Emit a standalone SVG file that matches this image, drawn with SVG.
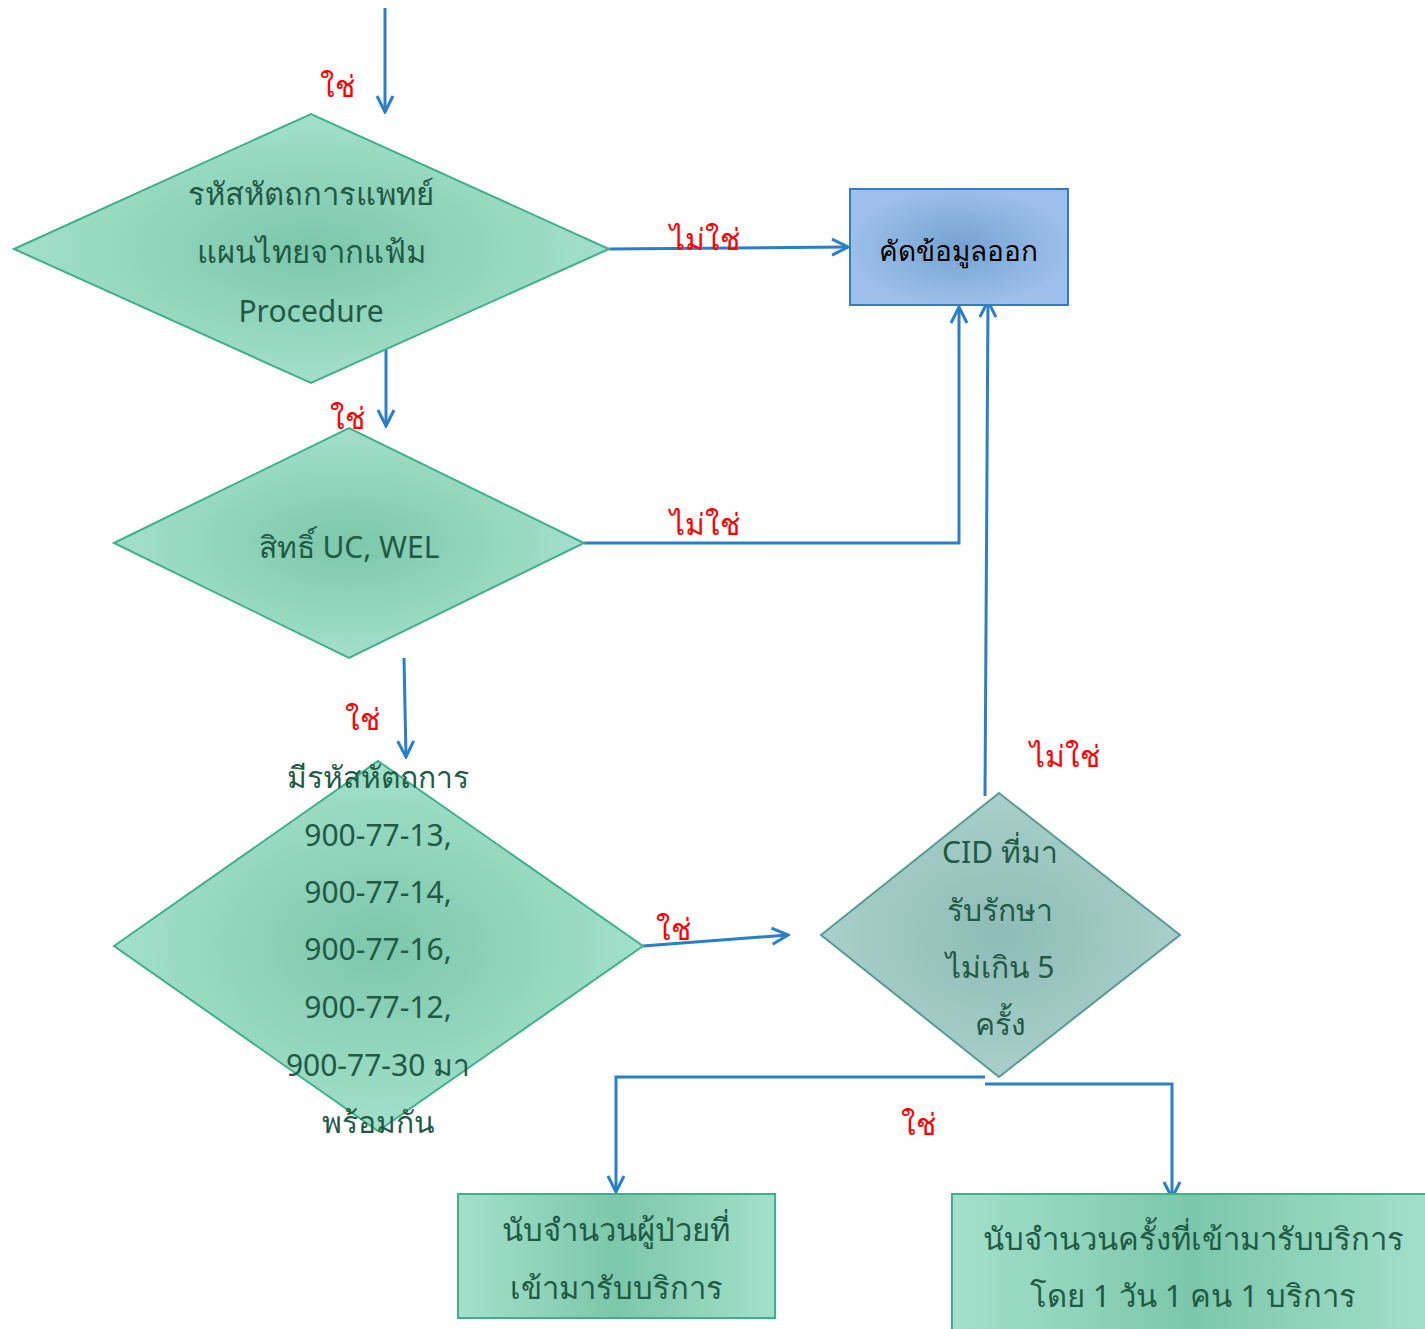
<svg xmlns="http://www.w3.org/2000/svg" width="1425" height="1329" viewBox="0 0 1425 1329">
<style>
.t{font-family:"Noto Sans","DejaVu Sans",sans-serif;font-size:30px;fill:#1f5a45;text-anchor:middle}
.lbl{font-family:"Liberation Serif","DejaVu Serif",serif;font-size:30px;fill:#ff0000;text-anchor:middle}
.c{fill:none;stroke:#2a7fc6;stroke-width:3}
.g{stroke:#3fb08a;stroke-width:2}
</style>
<defs>
<radialGradient id="gg" cx="50%" cy="50%" r="50%">
<stop offset="0" stop-color="#7cc7ab"/><stop offset="1" stop-color="#a3e0cb"/>
</radialGradient>
<linearGradient id="gh" x1="0" y1="0" x2="1" y2="0">
<stop offset="0" stop-color="#a3e0cb"/><stop offset="0.5" stop-color="#7cc7ab"/><stop offset="1" stop-color="#a3e0cb"/>
</linearGradient>
<radialGradient id="gb" cx="50%" cy="50%" r="50%">
<stop offset="0" stop-color="#74a2d2"/><stop offset="1" stop-color="#9dbfe9"/>
</radialGradient>
<radialGradient id="gt" cx="50%" cy="50%" r="50%">
<stop offset="0" stop-color="#8ebcb6"/><stop offset="1" stop-color="#a9cfca"/>
</radialGradient>
<marker id="ah" viewBox="0 0 20 20" refX="18" refY="10" markerWidth="20" markerHeight="20" markerUnits="userSpaceOnUse" orient="auto">
<path d="M2,2 L18,10 L2,18" fill="none" stroke="#2a7fc6" stroke-width="3"/>
</marker>
</defs>

<g id="connectors">
<line class="c" x1="385" y1="8" x2="385" y2="112" marker-end="url(#ah)"/>
<line class="c" x1="609" y1="249" x2="848" y2="247" marker-end="url(#ah)"/>
<line class="c" x1="386" y1="350" x2="386" y2="426" marker-end="url(#ah)"/>
<polyline class="c" points="584,543 959,543 959,307" marker-end="url(#ah)"/>
<line class="c" x1="404" y1="658" x2="406" y2="757" marker-end="url(#ah)"/>
<line class="c" x1="643" y1="946" x2="788" y2="935" marker-end="url(#ah)"/>
<line class="c" x1="985" y1="796" x2="988" y2="301" marker-end="url(#ah)"/>
<polyline class="c" points="985,1077 616,1077 616,1192" marker-end="url(#ah)"/>
<polyline class="c" points="985,1084 1172,1084 1172,1198" marker-end="url(#ah)"/>
<text class="lbl" x="337" y="97">ใช่</text>
<text class="lbl" x="705" y="250">ไม่ใช่</text>
<text class="lbl" x="347" y="429">ใช่</text>
<text class="lbl" x="705" y="535">ไม่ใช่</text>
<text class="lbl" x="362" y="730">ใช่</text>
<text class="lbl" x="673" y="940">ใช่</text>
<text class="lbl" x="1065" y="767">ไม่ใช่</text>
<text class="lbl" x="918" y="1135">ใช่</text>
</g>

<g id="d1">
<polygon class="g" points="14,249 311,114 609,249 311,383" fill="url(#gg)"/>
<text class="t" x="311" y="205" style="font-size:31px">รหัสหัตถการแพทย์</text>
<text class="t" x="311" y="263" style="font-size:31px">แผนไทยจากแฟ้ม</text>
<text class="t" x="311" y="322">Procedure</text>
</g>

<g id="out">
<rect x="850" y="189" width="218" height="116" fill="url(#gb)" stroke="#2e7ec4" stroke-width="2"/>
<text class="t" x="958" y="261" style="fill:#000;font-size:28px">คัดข้อมูลออก</text>
</g>

<g id="d2">
<polygon class="g" points="114,543 349,428 584,543 349,658" fill="url(#gg)"/>
<text class="t" x="349" y="558">สิทธิ์ UC, WEL</text>
</g>

<g id="d3">
<polygon class="g" points="114,946 378,761 643,946 378,1131" fill="url(#gg)"/>
<text class="t" x="378" y="788">มีรหัสหัตถการ</text>
<text class="t" x="378" y="846">900-77-13,</text>
<text class="t" x="378" y="903">900-77-14,</text>
<text class="t" x="378" y="960">900-77-16,</text>
<text class="t" x="378" y="1018">900-77-12,</text>
<text class="t" x="378" y="1076">900-77-30 มา</text>
<text class="t" x="378" y="1133">พร้อมกัน</text>
</g>

<g id="d4">
<polygon points="821,935 999,793 1180,935 999,1077" fill="url(#gt)" stroke="#5a9a94" stroke-width="2"/>
<text class="t" x="1000" y="863">CID ที่มา</text>
<text class="t" x="1000" y="921">รับรักษา</text>
<text class="t" x="1000" y="978">ไม่เกิน 5</text>
<text class="t" x="1000" y="1035">ครั้ง</text>
</g>

<g id="b1">
<rect class="g" x="458" y="1194" width="317" height="124" fill="url(#gh)"/>
<text class="t" x="616" y="1241" style="font-size:31px">นับจำนวนผู้ป่วยที่</text>
<text class="t" x="616" y="1299" style="font-size:31px">เข้ามารับบริการ</text>
</g>

<g id="b2">
<rect class="g" x="952" y="1194" width="480" height="145" fill="url(#gh)"/>
<text class="t" x="1193" y="1250" style="font-size:31px">นับจำนวนครั้งที่เข้ามารับบริการ</text>
<text class="t" x="1193" y="1307" style="font-size:31px">โดย 1 วัน 1 คน 1 บริการ</text>
</g>
</svg>
